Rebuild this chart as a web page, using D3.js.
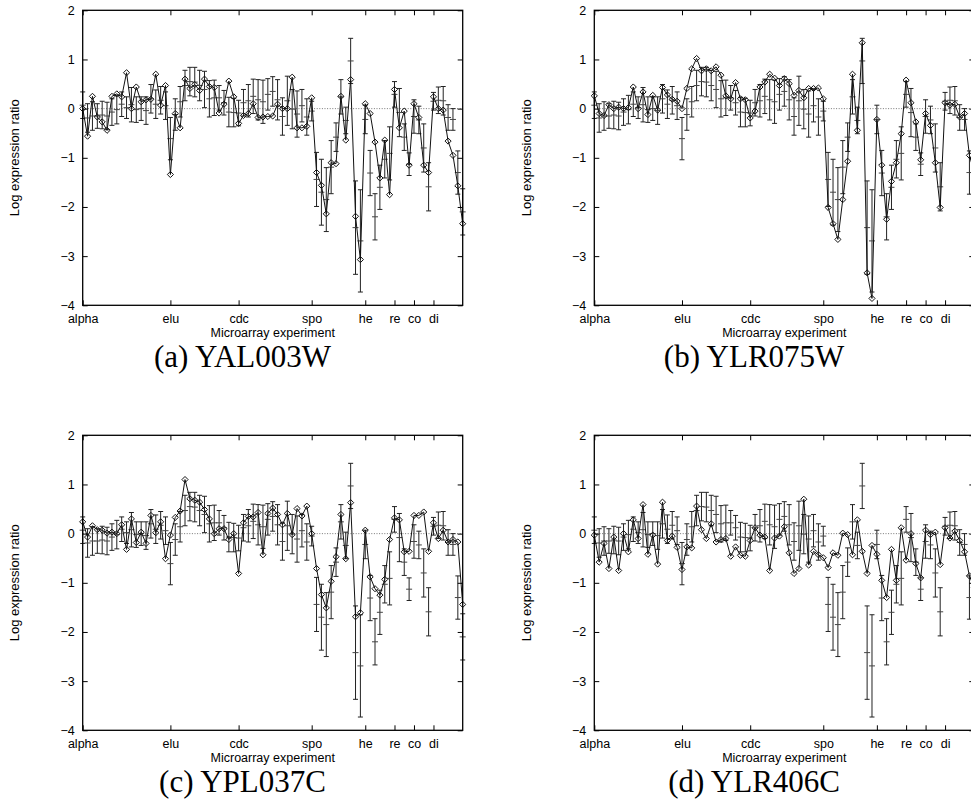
<!DOCTYPE html>
<html><head><meta charset="utf-8">
<script src="https://cdn.jsdelivr.net/npm/d3@7"></script>
<style>body{margin:0;background:#fff} svg{display:block}</style>
</head><body><svg id="c" width="971" height="810"></svg>
<script>
const experiments = ["alpha","elu","cdc","spo","he","re","co","di"];
const experimentStart = [0,18,32,47,58,64,68,72];
const yTicks = [-4,-3,-2,-1,0,1,2];

const clusterMean = [
0.07,-0.19,-0.15,-0.15,-0.13,-0.15,-0.07,-0.02,0.09,0.02,
0.08,-0.02,0.0,-0.04,0.2,0.09,0.17,0.06,-0.61,-0.12,
0.14,0.47,0.55,0.54,0.47,0.39,0.2,0.22,0.22,0.12,
-0.07,-0.08,-0.09,0.12,0.16,0.25,0.18,0.14,0.29,0.35,
0.18,-0.16,0.16,-0.01,-0.11,0.06,-0.17,-0.05,-1.44,-1.70,
-1.85,-1.19,-0.58,0.24,-0.24,0.97,-2.42,-2.69,-0.22,-1.31,
-2.2,-1.6,-1.03,-0.91,0.29,-0.08,-0.58,-1.13,-0.16,-0.23,
-0.8,-1.59,0.15,0.17,0.16,-0.18,-0.22,-1.3,-2.1];
const clusterStd = [
0.27,0.29,0.29,0.25,0.28,0.28,0.27,0.29,0.25,0.22,
0.35,0.26,0.24,0.28,0.29,0.29,0.28,0.28,0.43,0.32,
0.31,0.31,0.29,0.3,0.31,0.37,0.37,0.36,0.25,0.25,
0.3,0.29,0.26,0.27,0.33,0.35,0.41,0.44,0.32,0.3,
0.41,0.38,0.5,0.4,0.47,0.33,0.37,0.2,0.55,0.67,
0.65,0.54,0.29,0.35,0.27,0.46,0.95,1.04,0.29,0.46,
0.47,0.45,0.38,0.54,0.26,0.49,0.27,0.23,0.34,0.28,
0.49,0.49,0.18,0.27,0.29,0.26,0.22,0.44,0.47];

const geneYAL003W = [
0.0,-0.56,0.25,-0.17,-0.27,-0.44,0.25,0.3,0.24,0.73,
0.0,0.44,0.14,0.18,0.19,0.7,0.07,0.47,-1.34,-0.1,
-0.39,0.6,0.41,0.49,0.37,0.6,0.45,0.43,-0.09,0.09,
0.56,0.24,-0.3,-0.14,-0.1,0.1,-0.18,-0.17,-0.16,-0.15,
0.09,0.0,0.0,0.64,-0.39,-0.39,-0.36,0.22,-1.3,-1.56,
-2.14,-1.1,-1.12,0.25,-0.64,0.59,-2.19,-3.07,0.1,-0.1,
-0.68,-1.41,-0.64,-1.75,0.39,-0.39,-0.05,-1.15,0.1,-0.18,
-1.15,-1.3,0.24,0.0,-0.03,-0.66,-0.95,-1.57,-2.34];
const geneYLR075W = [
0.26,-0.1,-0.14,0.08,0.0,0.03,0.0,0.02,0.44,0.0,
0.34,-0.12,0.27,-0.03,0.43,0.28,0.19,0.15,0.0,0.41,
0.81,1.02,0.77,0.81,0.77,0.85,0.68,0.26,0.2,0.53,
0.2,0.18,-0.19,-0.05,0.44,0.54,0.7,0.62,0.47,0.61,
0.51,0.27,0.37,0.22,0.41,0.41,0.42,0.2,-2.01,-2.34,
-2.66,-1.85,-1.07,0.7,-0.44,1.34,-3.34,-3.86,-0.22,-1.15,
-2.25,-1.48,-1.1,-0.51,0.58,0.12,-0.27,-1.04,-0.1,-0.34,
-1.1,-2.01,0.12,0.07,0.09,-0.17,-0.1,-0.95,-1.3];
const geneYPL037C = [
0.24,-0.07,0.16,0.08,0.07,0.01,0.03,0.0,0.18,-0.32,
0.3,-0.18,0.03,-0.2,0.37,0.02,0.24,-0.51,-0.03,0.33,
0.46,1.1,0.71,0.68,0.64,0.49,0.3,0.0,0.1,0.1,
-0.12,0.0,-0.81,0.22,0.35,0.34,0.43,-0.43,0.41,0.52,
0.39,0.18,0.41,-0.02,0.51,0.36,0.56,0.0,-0.71,-1.24,
-1.51,-0.97,-0.47,0.39,-0.51,0.63,-1.69,-1.61,0.07,-0.88,
-1.12,-1.25,-0.93,-0.12,0.32,0.28,-0.37,-0.36,0.37,0.37,
0.44,-0.36,0.22,-0.1,0.07,-0.17,-0.12,-0.17,-1.44];
const geneYLR406C = [
-0.03,-0.58,-0.2,-0.71,-0.07,-0.75,0.0,-0.37,0.28,-0.1,
0.59,-0.42,-0.03,-0.62,0.64,-0.14,-0.05,-0.28,-0.73,-0.27,
-0.29,0.56,0.08,-0.1,0.2,-0.17,-0.12,-0.1,-0.46,-0.27,
-0.44,-0.46,-0.14,0.12,-0.03,-0.07,-0.75,-0.09,-0.05,0.14,
-0.39,-0.81,-0.71,0.7,-0.64,-0.36,-0.43,-0.49,-0.69,-0.39,
-0.44,0.01,-0.02,-0.43,0.28,-0.36,-0.81,-0.24,-0.42,-0.95,
-1.3,-0.32,-0.95,0.12,-0.54,0.0,-0.61,-0.9,0.07,-0.02,
0.03,-0.63,0.12,-0.09,0.05,-0.14,-0.37,-0.86,-1.1];

const panelLabels = ["(a) YAL003W","(b) YLR075W","(c) YPL037C","(d) YLR406C"];
const panelSeries = [geneYAL003W, geneYLR075W, geneYPL037C, geneYLR406C];

const svg = d3.select("#c");
const W = 380, H = 295;
const origins = [[82.7,10.3],[594.3,10.3],[82.7,435.3],[594.3,435.3]];
const SANS = "'Liberation Sans', Arial, Helvetica, sans-serif";
const SERIF = "'Liberation Serif', 'Times New Roman', serif";

const x = d3.scaleLinear().domain([0, clusterMean.length - 1]).range([0, W]);
const y = d3.scaleLinear().domain([-4, 2]).range([H, 0]);

panelSeries.forEach((vals, p) => {
  const [ox, oy] = origins[p];
  const g = svg.append("g").attr("transform", `translate(${ox},${oy})`);

  // zero reference line
  g.append("line")
    .attr("x1", x(0)).attr("x2", x(clusterMean.length - 1))
    .attr("y1", y(0)).attr("y2", y(0))
    .attr("stroke", "#777").attr("stroke-width", 1)
    .attr("stroke-dasharray", "1,1.6");

  // error bars (cluster mean +/- std)
  const eb = g.append("g").attr("stroke", "#222").attr("stroke-width", 1).attr("fill", "none");
  clusterMean.forEach((m, i) => {
    const s = clusterStd[i];
    const cx = x(i);
    eb.append("line").attr("x1", cx).attr("x2", cx).attr("y1", y(m - s)).attr("y2", y(m + s));
    eb.append("line").attr("x1", cx - 2.5).attr("x2", cx + 2.5).attr("y1", y(m + s)).attr("y2", y(m + s));
    eb.append("line").attr("x1", cx - 2.5).attr("x2", cx + 2.5).attr("y1", y(m - s)).attr("y2", y(m - s));
    eb.append("line").attr("x1", cx - 3).attr("x2", cx + 3).attr("y1", y(m)).attr("y2", y(m)).attr("stroke", "#444");
  });

  // gene profile line
  const line = d3.line().x((d, i) => x(i)).y(d => y(d));
  g.append("path").datum(vals).attr("d", line)
    .attr("fill", "none").attr("stroke", "#111").attr("stroke-width", 1);

  // diamond markers
  g.append("g").selectAll("path").data(vals).join("path")
    .attr("d", d3.symbol(d3.symbolDiamond2, 24))
    .attr("transform", (d, i) => `translate(${x(i)},${y(d)})`)
    .attr("fill", "none").attr("stroke", "#111").attr("stroke-width", 1);

  // axes
  const fmtX = d => experiments[experimentStart.indexOf(d)];
  const bottom = g.append("g").attr("transform", `translate(0,${H})`)
    .call(d3.axisBottom(x).tickValues(experimentStart).tickFormat(fmtX).tickSizeInner(-5).tickSizeOuter(0));
  bottom.selectAll("text").attr("y", 17.5).attr("dy", null);
  g.append("g")
    .call(d3.axisTop(x).tickValues(experimentStart).tickFormat("").tickSizeInner(-5).tickSizeOuter(0));
  g.append("g")
    .call(d3.axisLeft(y).tickValues(yTicks).tickFormat(d3.format("d")).tickSizeInner(-5).tickSizeOuter(0).tickPadding(8));
  g.append("g").attr("transform", `translate(${W},0)`)
    .call(d3.axisRight(y).tickValues(yTicks).tickFormat("").tickSizeInner(-5).tickSizeOuter(0));
  g.selectAll(".domain").remove();
  g.selectAll(".tick line").attr("stroke", "#000");
  g.selectAll(".tick text").attr("fill", "#000").style("font-family", SANS).style("font-size", "12.5px");

  // frame
  g.append("rect").attr("x", 0).attr("y", 0).attr("width", W).attr("height", H)
    .attr("fill", "none").attr("stroke", "#000").attr("stroke-width", 1.3);

  // axis titles
  g.append("text").attr("x", W / 2).attr("y", H + 31.5)
    .attr("text-anchor", "middle").style("font-family", SANS).style("font-size", "12.5px")
    .text("Microarray experiment");
  g.append("text").attr("transform", `translate(-63.2,${H / 2}) rotate(-90)`)
    .attr("text-anchor", "middle").style("font-family", SANS).style("font-size", "13px")
    .text("Log expression ratio");

  // caption
  g.append("text").attr("x", 242.5 - 82.7).attr("y", H + 62)
    .attr("text-anchor", "middle").style("font-family", SERIF).style("font-size", "31px")
    .text(panelLabels[p]);
});
</script></body></html>
